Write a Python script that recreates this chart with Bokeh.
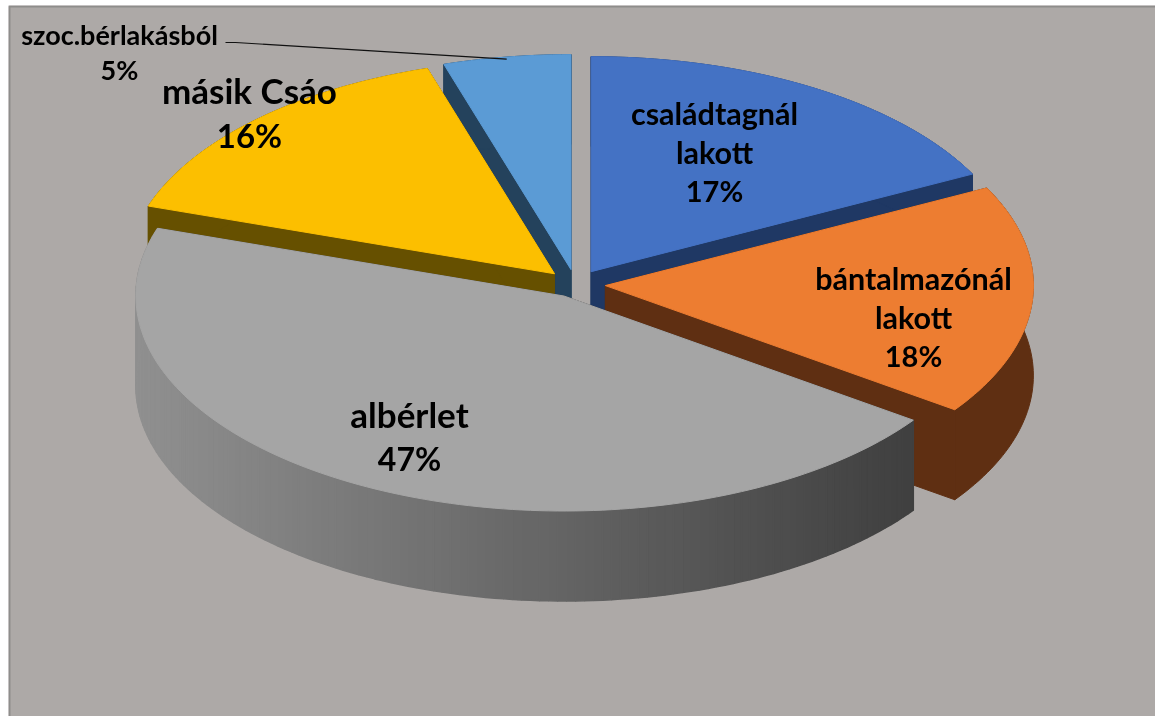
import math
from bokeh.plotting import figure
from bokeh.models import Range1d
from bokeh.core.properties import value
from bokeh.embed import file_html
from bokeh.resources import INLINE

# ---- data -----------------------------------------------------------------
categories = ["családtagnál lakott", "bántalmazónál lakott", "albérlet", "másik Csáo", "szoc.bérlakásból"]
# slice shares (clockwise from 12 o'clock)
shares = [17.5, 17.3, 45.3, 15.1, 4.8]
# printed labels
percent_labels = ["17%", "18%", "47%", "16%", "5%"]
label_lines = [["családtagnál", "lakott"], ["bántalmazónál", "lakott"], ["albérlet"], ["másik Csáo"], ["szoc.bérlakásból"]]

# ---- style ----------------------------------------------------------------
top_colors = ["#4472C4", "#ED7D31", "#A5A5A5", "#FCBF00", "#5B9BD5"]
side_colors = ["#1F3864", "#5F2F12", None, "#665000", "#24425C"]
BG = "#ADA9A7"
BORDER = "#8E8D8B"
CX, CY, RX, RY, DEPTH = 575, 284, 428, 215, 90
explode = [0.07, 0.07, 0.06, 0.07, 0.07]
label_x = [714, 913, 409, 249, 119]
label_y = [112, 277, 413, 89, 34]
label_step = [39, 39, 45, 45, 35]
name_size = [30.5, 30.5, 35, 35, 27]
pct_size = [29, 29, 32, 33, 27]
label_font = "Lato"
draw_order = [0, 4, 3, 1, 2]

W, H = 1147, 711
p = figure(width=W, height=H, output_backend="svg", toolbar_location=None,
           x_range=Range1d(8, 8 + W), y_range=Range1d(5 + H, 5),
           min_border=0, outline_line_color=None, background_fill_color=BG,
           border_fill_color=BG)
p.axis.visible = False
p.grid.visible = False
p.styles = {"position": "fixed", "left": "8px", "top": "5px"}

total = sum(shares)
starts, cum = [], 0.0
for s in shares:
    starts.append(cum)
    cum += s


def pt(ax, ay, ang, r=1.0):
    return ax + RX * r * math.sin(ang), ay - RY * r * math.cos(ang)


def lerp_gray(t):
    v = int(round(0x90 + (0x3F - 0x90) * t))
    return "#%02x%02x%02x" % (v, v, v)


for i in draw_order:
    a0 = 2 * math.pi * starts[i] / total
    a1 = 2 * math.pi * (starts[i] + shares[i]) / total
    mid = (a0 + a1) / 2
    ax, ay = pt(CX, CY, mid, explode[i])
    n = max(8, int(shares[i] * 3))
    angs = [a0 + (a1 - a0) * k / n for k in range(n + 1)]
    arc = [pt(ax, ay, a) for a in angs]
    side = side_colors[i]
    # radial cut walls
    for (ex, ey) in (arc[0], arc[-1]):
        col = side if side else lerp_gray(1)
        p.patch([ax, ex, ex, ax], [ay, ey, ey + DEPTH, ay + DEPTH],
                fill_color=col, line_color=col, line_width=1)
    # outer wall: solid sides as one piece, the grey one in gradient steps
    if side:
        xs = [q[0] for q in arc] + [q[0] for q in reversed(arc)]
        ys = [q[1] for q in arc] + [q[1] + DEPTH for q in reversed(arc)]
        p.patch(xs, ys, fill_color=side, line_color=side, line_width=1)
    else:
        for k in range(n):
            (x0, y0), (x1, y1) = arc[k], arc[k + 1]
            t = ((x0 + x1) / 2 - 135) / (915 - 135)
            col = lerp_gray(min(max(t, 0), 1))
            p.patch([x0, x1, x1, x0], [y0, y1, y1 + DEPTH, y0 + DEPTH],
                    fill_color=col, line_color=col, line_width=1.5)
    # top
    p.patch([ax] + [q[0] for q in arc], [ay] + [q[1] for q in arc],
            fill_color=top_colors[i], line_color=top_colors[i], line_width=1)

# leader line from the smallest slice's label to its arc
i = 4
a = 2 * math.pi * (starts[i] + shares[i] / 2) / total
lead_ax, lead_ay = pt(CX, CY, a, explode[i])
lx, ly = pt(lead_ax, lead_ay, a)
p.line([225, 235, lx], [42, 42, ly + 2], line_color="#111111", line_width=1.2)

# labels
for i in range(5):
    rows = label_lines[i] + [percent_labels[i]]
    sizes = [name_size[i]] * len(label_lines[i]) + [pct_size[i]]
    for j, row in enumerate(rows):
        p.text(x=[label_x[i]], y=[label_y[i] + j * label_step[i]],
               text=[row], text_font=value(label_font), text_font_style="bold",
               text_font_size=value("%gpx" % sizes[j]), text_color="#000000",
               text_align="center", text_baseline="middle")

# top and left frame rule
p.line([9, 9, 8 + W], [5 + H, 6, 6], line_color=BORDER, line_width=2)

open("out.html", "w").write(file_html(p, INLINE))
